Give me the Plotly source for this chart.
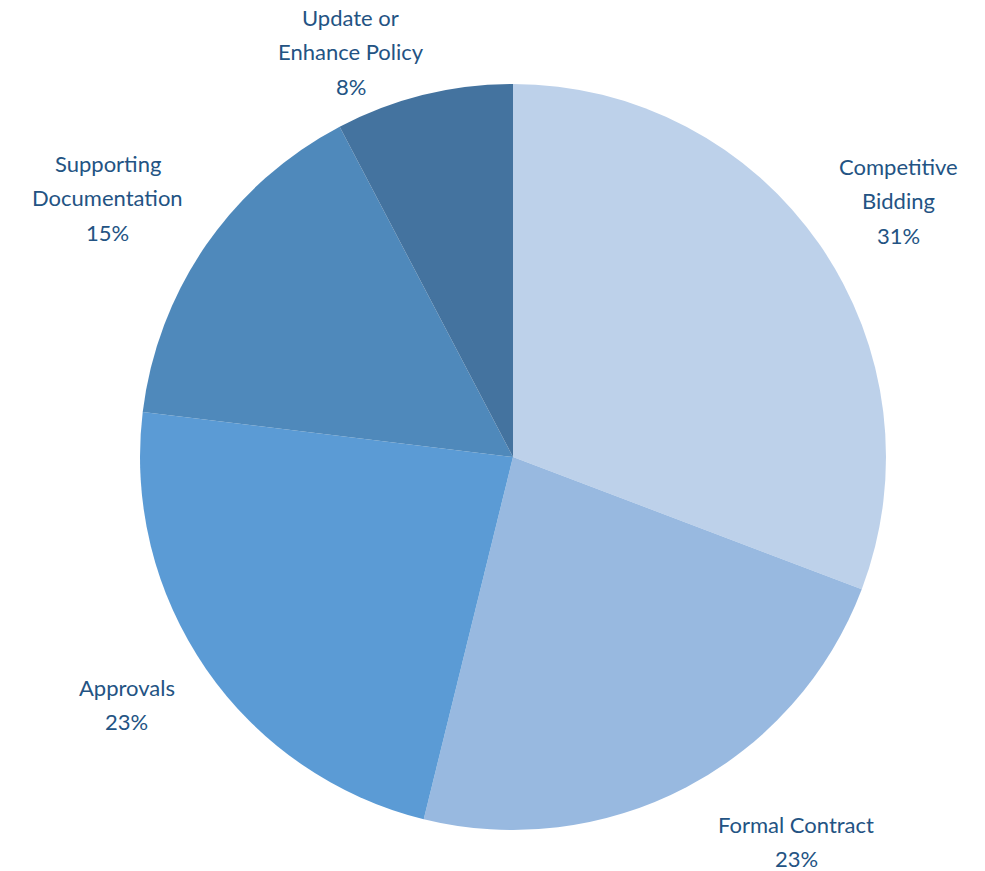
import math
import plotly.graph_objects as go

# Share of findings by category
categories = ["Competitive Bidding", "Formal Contract", "Approvals",
              "Supporting Documentation", "Update or Enhance Policy"]
label_lines = [["Competitive", "Bidding"], ["Formal Contract"], ["Approvals"],
               ["Supporting", "Documentation"], ["Update or", "Enhance Policy"]]
counts = [4, 3, 3, 2, 1]

colors = ["#BDD1EA", "#98B9E0", "#5B9BD5", "#4F89BB", "#44739F"]
text_color = "#235383"
font_family = "Lato, 'Open Sans', sans-serif"

W, H = 985, 871
cx, cy, R = 513, 457, 373  # pie centre and radius in pixels
line_gap = 34.5              # vertical spacing between label lines, px

fig = go.Figure(go.Pie(
    labels=categories,
    values=counts,
    sort=False,
    direction="clockwise",
    rotation=0,
    textinfo="none",
    hoverinfo="label+percent",
    marker=dict(colors=colors, line=dict(width=0)),
    domain=dict(x=[(cx - R) / W, (cx + R) / W],
                y=[1 - (cy + R) / H, 1 - (cy - R) / H]),
    showlegend=False,
))

# Outside labels placed along each slice's mid-angle
radial = [1.24, 1.28, 1.23, 1.29, 1.17]
angle_shift = [1.0, -8.7, 2.0, -2.0, -8.0]
total = sum(counts)
cum = 0
for i, v in enumerate(counts):
    mid = (cum + v / 2) / total * 360 + angle_shift[i]
    cum += v
    px = cx + radial[i] * R * math.sin(math.radians(mid))
    py = cy - radial[i] * R * math.cos(math.radians(mid))
    pct = f"{round(v / total * 100)}%"
    lines = label_lines[i] + [pct]
    n = len(lines)
    for k, line in enumerate(lines):
        ly = py + (k - (n - 1) / 2) * line_gap
        fig.add_annotation(
            x=px / W, y=1 - ly / H, xref="paper", yref="paper",
            text=line, showarrow=False, align="center",
            xanchor="center", yanchor="middle",
            font=dict(family=font_family, size=22, color=text_color),
        )

fig.update_layout(
    width=W, height=H,
    margin=dict(l=0, r=0, t=0, b=0),
    paper_bgcolor="white", plot_bgcolor="white",
)

fig.write_html("out.html")
